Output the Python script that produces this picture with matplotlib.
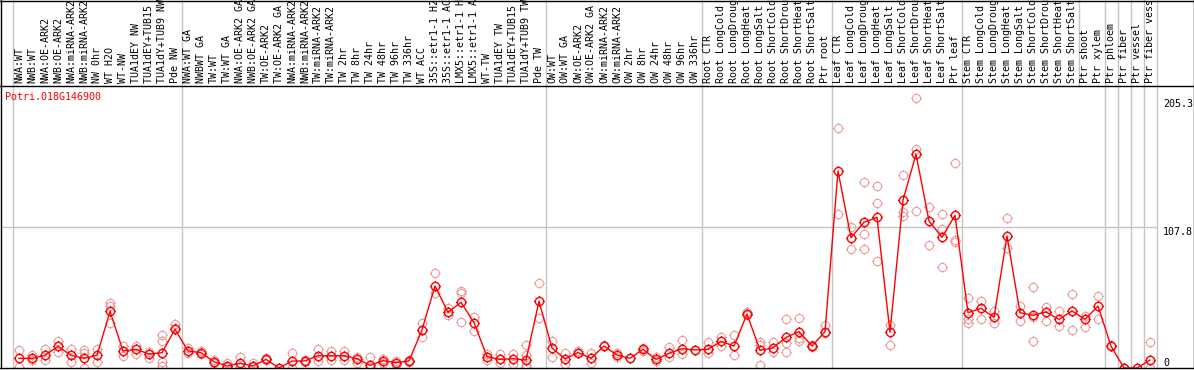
import matplotlib
matplotlib.use('Agg')
import matplotlib.pyplot as plt
import matplotlib.transforms as mtransforms
from matplotlib.path import Path
from matplotlib.lines import Line2D
import numpy as np

# ---------------- data ----------------
title = "Potri.018G146900"

samples = [
    "NWA:WT", "NWB:WT", "NWA:OE-ARK2", "NWB:OE-ARK2", "NWA:miRNA-ARK2", "NWB:miRNA-ARK2",
    "NW 0hr", "WT H2O", "WT-NW", "TUA1dEY NW", "TUA1dEY+TUB15 NW", "TUA1dY+TUB9 NW", "Pde NW",
    "NWA:WT GA", "NWBWT GA", "TW:WT", "TW:WT GA", "NWA:OE-ARK2 GA", "NWB:OE-ARK2 GA",
    "TW:OE-ARK2", "TW:OE-ARK2 GA", "NWA:miRNA-ARK2", "NWB:miRNA-ARK2", "TW:miRNA-ARK2",
    "TW:miRNA-ARK2", "TW 2hr", "TW 8hr", "TW 24hr", "TW 48hr", "TW 96hr", "TW 336hr",
    "WT ACC", "35S::etr1-1 H2O", "35S::etr1-1 ACC", "LMX5::etr1-1 H2O", "LMX5::etr1-1 ACC",
    "WT-TW", "TUA1dEY TW", "TUA1dEY+TUB15 TW", "TUA1dY+TUB9 TW", "Pde TW",
    "OW:WT", "OW:WT GA", "OW:OE-ARK2", "OW:OE-ARK2 GA", "OW:miRNA-ARK2", "OW:miRNA-ARK2",
    "OW 2hr", "OW 8hr", "OW 24hr", "OW 48hr", "OW 96hr", "OW 336hr",
    "Root CTR", "Root LongCold", "Root LongDrought", "Root LongHeat", "Root LongSalt",
    "Root ShortCold", "Root ShortDrought", "Root ShortHeat", "Root ShortSalt", "Ptr root",
    "Leaf CTR", "Leaf LongCold", "Leaf LongDrought", "Leaf LongHeat", "Leaf LongSalt",
    "Leaf ShortCold", "Leaf ShortDrought", "Leaf ShortHeat", "Leaf ShortSalt", "Ptr leaf",
    "Stem CTR", "Stem LongCold", "Stem LongDrought", "Stem LongHeat", "Stem LongSalt",
    "Stem ShortCold", "Stem ShortDrought", "Stem ShortHeat", "Stem ShortSalt",
    "Ptr shoot", "Ptr xylem", "Ptr phloem", "Ptr fiber", "Ptr vessel", "Ptr fiber vessel",
]

means = [
    7.4, 7.4, 9.7, 16.6, 9.7, 7.4, 9.7, 43.3, 13.0, 14.3, 10.7, 11.7, 29.6,
    13.0, 11.7, 4.8, 1.5, 3.6, 1.5, 6.6, 0.0, 5.3, 5.4, 9.4, 9.4, 9.4, 7.1, 2.0,
    5.6, 4.1, 5.4, 29.1, 62.7, 42.6, 50.2, 34.7, 8.7, 6.6, 7.1, 6.1, 51.0,
    15.3, 6.9, 11.8, 7.4, 16.8, 9.9, 7.4, 14.3, 6.6, 11.2, 14.8, 13.8,
    14.3, 20.4, 16.8, 41.3, 13.5, 15.5, 23.4, 27.8, 16.8, 27.8,
    150.6, 99.6, 111.4, 115.2, 27.3, 128.4, 163.4, 112.4, 99.9, 116.7,
    42.3, 45.6, 38.8, 100.9, 42.3, 40.3, 42.8, 37.2, 43.6,
    37.2, 47.4, 16.8, 0.0, 0.0, 6.1,
]

replicates = [
    [13.8, 1.0], [9.9, 6.1], [14.3, 6.1], [20.6, 12.5], [14.3, 4.8], [13.8, 11.2, 0.0],
    [14.3, 4.8], [49.5, 47.4, 34.7], [16.8, 9.2], [17.1, 10.7], [12.5, 7.4],
    [25.2, 20.6, 4.8, 1.5], [33.4, 30.9],
    [15.5, 11.2], [13.0, 10.7], [6.1, 3.6], [3.6, 0.5], [8.7, 0.5], [4.1, 0.5],
    [7.4, 6.1], [0.0], [11.7, 0.0], [6.1, 4.8], [14.5, 5.4], [13.0, 6.1], [13.0, 6.1],
    [8.2, 4.1], [8.2, 0.5], [7.1, 3.6], [5.4, 2.3], [6.1, 4.8], [34.2, 23.9],
    [72.4, 57.1], [45.6, 40.5], [58.9, 57.1, 35.2], [39.2, 28.3], [10.4, 6.1],
    [10.4, 3.6], [10.4, 2.8], [17.6, 10.0, 2.3, 0.5], [64.7, 38.0],
    [20.6, 8.7], [11.2, 2.8], [13.3, 11.2], [11.2, 3.6], [17.6], [11.2, 8.7], [7.4],
    [15.0, 13.3], [8.7, 5.6], [16.3, 8.2], [21.4, 10.7], [13.8],
    [20.1, 11.2], [24.0, 16.8], [25.2, 9.9], [43.1, 40.5], [20.1, 17.6, 2.3],
    [20.1, 12.5], [37.2, 19.4, 12.5], [37.9, 22.7, 20.9], [17.6, 16.3], [32.9, 26.5],
    [183.7, 117.7], [108.0, 91.0], [142.0, 102.2, 91.0], [139.4, 125.9, 81.5],
    [32.9, 17.3], [147.6, 119.5, 116.2], [206.2, 167.2, 119.8], [123.3, 93.8],
    [117.5, 106.0, 77.2], [156.7, 96.6, 97.5],
    [53.3, 37.2, 34.2], [51.2, 37.2], [43.3, 34.6], [114.4, 91.5], [47.4, 35.9],
    [61.9, 38.7, 20.6], [46.9, 35.9], [43.6, 32.1], [56.6, 29.1],
    [40.0, 31.1], [55.0, 37.2], [17.5], [0.0], [0.0], [19.6, 0.0],
]

ytick_values = [205.3, 107.8, 0]
ytick_labels = ["205.3", "107.8", "0"]
grid_value = 107.8

# group separators (between sample indices)
separators = [-0.5, 12.5, 40.5, 52.5, 62.5, 72.5, 83.5, 84.5, 85.5, 86.5, 87.5]
label_only_separators = [81.5]

# ---------------- layout ----------------
W, H = 1194, 370
fig = plt.figure(figsize=(W / 100, H / 100), dpi=100)
fig.patch.set_facecolor('white')

def fx(px):
    return px / W

def fy(py):
    return 1 - py / H

plot_left, plot_right = 1, 1156.5
plot_top, plot_bottom = 86, 368
first_px, step_px = 19, 13
px_per_unit = 1.308

MONO = 'DejaVu Sans Mono'
FS = 7.2
RED = '#ff0000'
PINK = '#ee9c9c'
GRAY = '#c4c4c4'

ax = fig.add_axes([fx(plot_left), fy(plot_bottom),
                   (plot_right - plot_left) / W, (plot_bottom - plot_top) / H])
ax.set_xlim((plot_left - first_px) / step_px, (plot_right - first_px) / step_px)
ax.set_ylim(0, (plot_bottom - plot_top) / px_per_unit)
ax.axis('off')

ax_lab = fig.add_axes([fx(plot_left), fy(plot_top),
                       (plot_right - plot_left) / W, plot_top / H], sharex=ax)
ax_lab.set_ylim(0, plot_top)
ax_lab.axis('off')

# separators
for s in separators:
    ax.axvline(s, color=GRAY, lw=1.0, clip_on=False, zorder=0)
    ax_lab.axvline(s, color=GRAY, lw=1.0, clip_on=False, zorder=0)
for s in label_only_separators:
    ax_lab.axvline(s, color=GRAY, lw=1.0, clip_on=False, zorder=0)

ax.axhline(grid_value, color=GRAY, lw=1.0, zorder=0)

# marker: circle with four small ticks
circ = Path.unit_circle()
tl = 1.28
tv = [(0, 1), (0, tl), (0, -1), (0, -tl), (1, 0), (tl, 0), (-1, 0), (-tl, 0)]
tc = [Path.MOVETO, Path.LINETO] * 4
marker_path = Path.make_compound_path(circ, Path(tv, tc))

x = np.arange(len(samples))
rx = np.concatenate([[i] * len(r) for i, r in enumerate(replicates)])
ry = np.concatenate([r for r in replicates])
ax.plot(rx, ry, linestyle='none', marker=marker_path, markersize=7.6,
        mfc='none', mec=PINK, mew=0.8, clip_on=True, zorder=2)
ax.plot(x, means, color=RED, lw=1.0, zorder=3)
ax.plot(x, means, linestyle='none', marker=marker_path, markersize=7.6,
        mfc='none', mec=RED, mew=1.0, zorder=4)

# sample labels
for i, name in enumerate(samples):
    ax_lab.text(i, 2.6, name, rotation=90, ha='center', va='bottom',
                family=MONO, fontsize=FS, color='black', clip_on=False)

# right value labels
tr = mtransforms.blended_transform_factory(fig.transFigure, ax.transData)
for v, lab in zip(ytick_values, ytick_labels):
    va = 'bottom' if v == 0 else 'top'
    ax.text(fx(1163), v, lab, transform=tr, ha='left', va=va,
            family=MONO, fontsize=FS, color='black', clip_on=False)

# title
fig.text(fx(5), fy(97), title, ha='left', va='center', family=MONO,
         fontsize=FS, color=RED)

# frame lines
def fline(x0, y0, x1, y1):
    fig.add_artist(Line2D([fx(x0), fx(x1)], [fy(y0), fy(y1)],
                          transform=fig.transFigure, color='black', lw=1.0))

fline(0.5, 0, 0.5, plot_bottom)
fline(1193.5, 0, 1193.5, plot_bottom)
fline(0, 0.5, W, 0.5)
fline(0, plot_bottom, W, plot_bottom)
fline(0, plot_top, W, plot_top)

fig.savefig('out.png', dpi=100, facecolor='white')
